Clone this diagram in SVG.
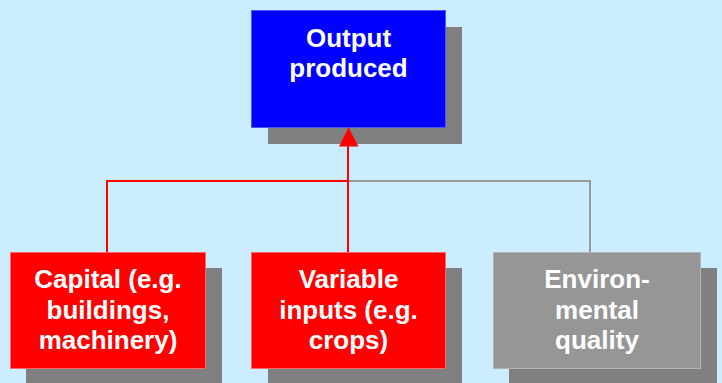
<svg xmlns="http://www.w3.org/2000/svg" width="722" height="383" viewBox="0 0 722 383">
<style>
.shadow{fill:#808080}
.blue{fill:#0000FF;stroke:#5555FF;stroke-width:1}
.red{fill:#FF0000;stroke:#FF6666;stroke-width:1}
.gray{fill:#969696;stroke:#B4B4B4;stroke-width:1}
.lbl{font-family:"Liberation Sans",Arial,sans-serif;font-weight:bold;font-size:26px;fill:#FFFFFF;text-anchor:middle}
.cr{fill:none;stroke:#FF0000;stroke-width:2}
.cg{fill:none;stroke:#999999;stroke-width:2}
.head{fill:#FF0000}
</style>
<rect width="722" height="383" fill="#CCECFF"/>
<g id="output">
<rect class="shadow" x="268" y="27" width="194" height="117"/>
<rect class="blue" x="251.5" y="10.5" width="194" height="117"/>
<text class="lbl" x="348.5" y="47">Output</text>
<text class="lbl" x="348.5" y="77">produced</text>
</g>
<g id="capital">
<rect class="shadow" x="26" y="268" width="196" height="115"/>
<rect class="red" x="10.5" y="252.5" width="195" height="116"/>
<text class="lbl" x="108" y="288">Capital (e.g.</text>
<text class="lbl" x="108" y="318.5">buildings,</text>
<text class="lbl" x="108" y="349">machinery)</text>
</g>
<g id="variable">
<rect class="shadow" x="268" y="268" width="194" height="115"/>
<rect class="red" x="251.5" y="252.5" width="194" height="116"/>
<text class="lbl" x="348.5" y="288">Variable</text>
<text class="lbl" x="348.5" y="318.5">inputs (e.g.</text>
<text class="lbl" x="348.5" y="349">crops)</text>
</g>
<g id="environment">
<rect class="shadow" x="509" y="268" width="208" height="115"/>
<rect class="gray" x="493.5" y="252.5" width="207" height="116"/>
<text class="lbl" x="597" y="288">Environ-</text>
<text class="lbl" x="597" y="318.5">mental</text>
<text class="lbl" x="597" y="349">quality</text>
</g>
<g id="connectors">
<path class="cg" d="M348,181 H590 V252"/>
<path class="cr" d="M107,252 V181 H348"/>
<path class="cr" d="M348,252 V145"/>
<polygon class="head" points="348.5,127.5 339,146.5 358.5,146.5"/>
</g>
</svg>
